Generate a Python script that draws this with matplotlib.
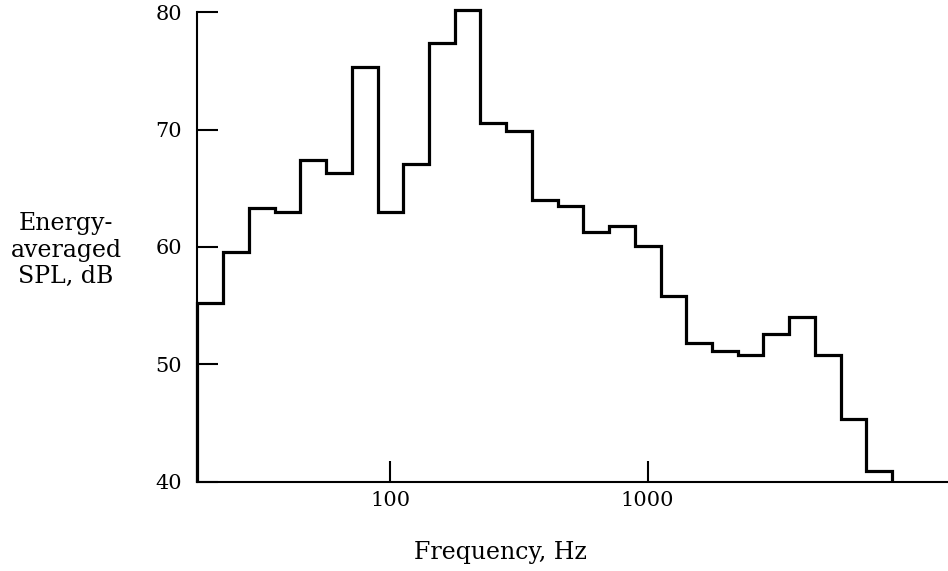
# Energy-averaged SPL spectrum, 1/3 octave bands
import numpy as np
import matplotlib.pyplot as plt

plt.rcParams['font.family'] = 'DejaVu Serif'

# band centre frequencies (Hz) and levels (dB)
bands = [20, 25, 31.5, 40, 50, 63, 80, 100, 125, 160, 200, 250, 315, 400,
         500, 630, 800, 1000, 1250, 1600, 2000, 2500, 3150, 4000, 5000,
         6300, 8000]
levels = [55.2, 59.6, 63.3, 63.0, 67.4, 66.3, 75.3, 63.0, 67.1, 77.4, 80.2,
          70.6, 69.9, 64.0, 63.5, 61.3, 61.8, 60.1, 55.8, 51.8, 51.1, 50.8,
          52.6, 54.0, 50.8, 45.3, 40.9]
yticks = [40, 50, 60, 70, 80]
xticks = [100, 1000]

# band edges, 1/3 octave = 1/10 decade
fc = 10 ** (np.round(np.log10(bands) * 10) / 10)
edges = np.concatenate([fc * 10 ** -0.05, [fc[-1] * 10 ** 0.05]])

fig = plt.figure(figsize=(9.48, 5.71), dpi=100)
ax = fig.add_axes([0.2083, 0.1564, 0.7917, 0.8221])

ax.stairs(levels, edges, baseline=40, color='black', linewidth=2.3,
          clip_on=False)

ax.set_xscale('log')
ax.set_xlim(edges[0], 14700)
ax.set_ylim(40, 80)
ax.set_xticks(xticks)
ax.set_xticklabels([str(t) for t in xticks])
ax.xaxis.set_minor_locator(plt.NullLocator())
ax.set_yticks(yticks)
ax.tick_params(direction='in', length=15, width=1.5, labelsize=15)
ax.tick_params(axis='y', pad=11)
ax.tick_params(axis='x', pad=7)
for s in ['top', 'right']:
    ax.spines[s].set_visible(False)
for s in ['left', 'bottom']:
    ax.spines[s].set_linewidth(1.5)

fig.text(500 / 948, 1 - 553 / 571, 'Frequency, Hz', ha='center',
         va='center', fontsize=17)
fig.text(66 / 948, 1 - 250 / 571, 'Energy-\naveraged\nSPL, dB',
         ha='center', va='center', fontsize=17, linespacing=1.2)

plt.savefig('out.png')
